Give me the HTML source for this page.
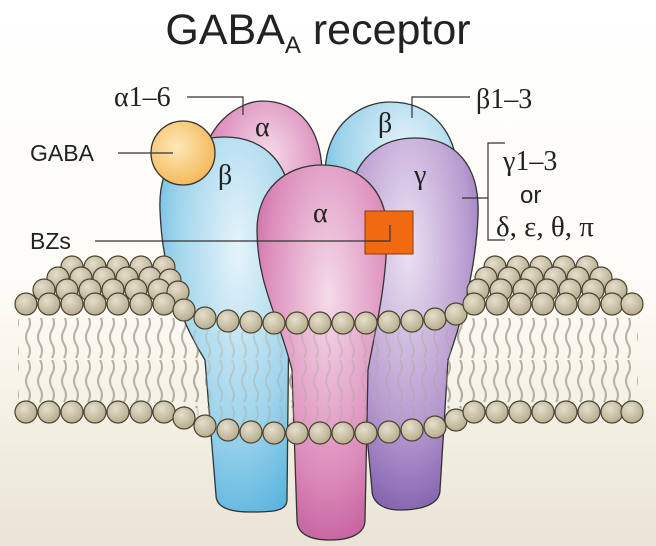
<!DOCTYPE html>
<html><head><meta charset="utf-8"><style>
html,body{margin:0;padding:0;background:#fff}
svg{display:block}
text{font-family:"Liberation Serif","DejaVu Serif",serif;fill:#222}
.s{font-family:"Liberation Sans",sans-serif}
</style></head><body>
<svg width="656" height="546" viewBox="0 0 656 546" xmlns="http://www.w3.org/2000/svg">
<defs>
<linearGradient id="bg" x1="0" y1="0" x2="0" y2="1">
<stop offset="0" stop-color="#ffffff"/><stop offset="0.55" stop-color="#fdfbf5"/><stop offset="0.78" stop-color="#f3efe3"/><stop offset="1" stop-color="#e9e4d6"/>
</linearGradient>
<radialGradient id="blue" cx="0.6" cy="0.3" r="0.8"><stop offset="0" stop-color="#e6f4fa"/><stop offset="0.6" stop-color="#9fd4ec"/><stop offset="1" stop-color="#4fb0dc"/></radialGradient>
<radialGradient id="pink" cx="0.55" cy="0.35" r="0.8"><stop offset="0" stop-color="#f5dbe9"/><stop offset="0.6" stop-color="#dc8cbb"/><stop offset="1" stop-color="#b8478e"/></radialGradient>
<radialGradient id="purple" cx="0.45" cy="0.3" r="0.8"><stop offset="0" stop-color="#ece2f2"/><stop offset="0.6" stop-color="#b79ad0"/><stop offset="1" stop-color="#7451a6"/></radialGradient>
<radialGradient id="gaba" cx="0.4" cy="0.4" r="0.7"><stop offset="0" stop-color="#fde8b8"/><stop offset="1" stop-color="#f4b450"/></radialGradient>
<radialGradient id="head" cx="0.4" cy="0.35" r="0.7"><stop offset="0" stop-color="#e6dfcc"/><stop offset="1" stop-color="#b4a98a"/></radialGradient>
<pattern id="tails" width="12" height="90" patternUnits="userSpaceOnUse">
<path d="M4 0 q4 7 0 14 q-4 7 0 14 q4 7 0 14 M4 46 q4 7 0 14 q-4 7 0 14 q4 7 0 14" stroke="#a9a494" stroke-width="2" fill="none"/>
</pattern>
</defs>
<rect width="656" height="546" fill="url(#bg)"/>
<rect x="18" y="318" width="620" height="90" fill="url(#tails)" opacity="0.85"/>

<path d="M203 175 C200 125 240 101 262 101 C300 101 322 130 322 175 L322 260 L210 260 Z" fill="url(#pink)" stroke="#333" stroke-width="1.3"/>
<path d="M325 175 C325 125 360 102 390 102 C430 102 458 130 458 180 L458 260 L330 260 Z" fill="url(#blue)" stroke="#333" stroke-width="1.3"/>
<path d="M160 210 C158 160 185 137 225 137 C265 137 292 165 290 210 L287 500 C287 512 270 512 250 512 C225 512 216 505 216 495 L205 360 C180 320 162 270 160 210 Z" fill="url(#blue)" stroke="#333" stroke-width="1.3"/>
<path d="M350 200 C352 160 380 138 415 138 C455 138 480 165 478 215 C476 270 462 320 448 360 L440 490 C440 505 420 510 400 510 C380 510 372 500 372 490 L360 360 Z" fill="url(#purple)" stroke="#333" stroke-width="1.3"/>
<path d="M257 230 C257 190 285 165 322 165 C360 165 388 190 387 235 C386 290 375 330 368 370 L365 520 C365 535 348 540 330 540 C312 540 297 535 297 520 L292 370 C280 320 257 285 257 230 Z" fill="url(#pink)" stroke="#333" stroke-width="1.3"/>

<!-- tails faintly visible through proteins -->
<rect x="190" y="330" width="280" height="95" fill="url(#tails)" opacity="0.35"/>

<circle cx="183" cy="153" r="32" fill="url(#gaba)" stroke="#333" stroke-width="1.3"/>
<rect x="365" y="211" width="48" height="43" fill="#f26a10" stroke="#8a3a10" stroke-width="1"/>

<g fill="url(#head)" stroke="#4a4433" stroke-width="1.2">
<circle cx="72" cy="267" r="11"/><circle cx="95" cy="267" r="11"/><circle cx="118" cy="267" r="11"/><circle cx="141" cy="267" r="11"/><circle cx="164" cy="267" r="11"/>
<circle cx="58" cy="278" r="11"/><circle cx="81" cy="278" r="11"/><circle cx="104" cy="278" r="11"/><circle cx="127" cy="278" r="11"/><circle cx="150" cy="278" r="11"/><circle cx="170" cy="280" r="11"/>
<circle cx="44" cy="290" r="11"/><circle cx="67" cy="290" r="11"/><circle cx="90" cy="290" r="11"/><circle cx="113" cy="290" r="11"/><circle cx="136" cy="290" r="11"/><circle cx="159" cy="290" r="11"/><circle cx="178" cy="292" r="11"/>
<circle cx="26" cy="304" r="11"/><circle cx="49" cy="304" r="11"/><circle cx="72" cy="304" r="11"/><circle cx="95" cy="304" r="11"/><circle cx="118" cy="304" r="11"/><circle cx="141" cy="304" r="11"/><circle cx="164" cy="304" r="11"/><circle cx="184" cy="310" r="11"/>
<circle cx="205" cy="318" r="11"/><circle cx="228" cy="321" r="11"/><circle cx="251" cy="322" r="11"/><circle cx="274" cy="323" r="11"/><circle cx="297" cy="323" r="11"/><circle cx="320" cy="323" r="11"/><circle cx="343" cy="323" r="11"/><circle cx="366" cy="323" r="11"/><circle cx="389" cy="322" r="11"/><circle cx="412" cy="321" r="11"/><circle cx="435" cy="319" r="11"/><circle cx="456" cy="314" r="11"/>
<circle cx="495" cy="267" r="11"/><circle cx="518" cy="267" r="11"/><circle cx="541" cy="267" r="11"/><circle cx="564" cy="267" r="11"/><circle cx="587" cy="267" r="11"/>
<circle cx="486" cy="278" r="11"/><circle cx="509" cy="278" r="11"/><circle cx="532" cy="278" r="11"/><circle cx="555" cy="278" r="11"/><circle cx="578" cy="278" r="11"/><circle cx="601" cy="278" r="11"/>
<circle cx="478" cy="290" r="11"/><circle cx="501" cy="290" r="11"/><circle cx="524" cy="290" r="11"/><circle cx="547" cy="290" r="11"/><circle cx="570" cy="290" r="11"/><circle cx="593" cy="290" r="11"/><circle cx="616" cy="290" r="11"/>
<circle cx="474" cy="304" r="11"/><circle cx="497" cy="304" r="11"/><circle cx="520" cy="304" r="11"/><circle cx="543" cy="304" r="11"/><circle cx="566" cy="304" r="11"/><circle cx="589" cy="304" r="11"/><circle cx="612" cy="304" r="11"/><circle cx="632" cy="304" r="11"/>
<circle cx="26" cy="412" r="11"/><circle cx="49" cy="412" r="11"/><circle cx="72" cy="412" r="11"/><circle cx="95" cy="412" r="11"/><circle cx="118" cy="412" r="11"/><circle cx="141" cy="412" r="11"/><circle cx="164" cy="412" r="11"/><circle cx="184" cy="418" r="11"/>
<circle cx="205" cy="426" r="11"/><circle cx="228" cy="430" r="11"/><circle cx="251" cy="432" r="11"/><circle cx="274" cy="433" r="11"/><circle cx="297" cy="433" r="11"/><circle cx="320" cy="433" r="11"/><circle cx="343" cy="433" r="11"/><circle cx="366" cy="433" r="11"/><circle cx="389" cy="432" r="11"/><circle cx="412" cy="430" r="11"/><circle cx="435" cy="427" r="11"/><circle cx="456" cy="420" r="11"/>
<circle cx="474" cy="412" r="11"/><circle cx="497" cy="412" r="11"/><circle cx="520" cy="412" r="11"/><circle cx="543" cy="412" r="11"/><circle cx="566" cy="412" r="11"/><circle cx="589" cy="412" r="11"/><circle cx="612" cy="412" r="11"/><circle cx="632" cy="412" r="11"/>
</g>

<g stroke="#333" stroke-width="1.2" fill="none">
<path d="M187 97 H243 V115"/>
<path d="M412 118 V97 H470"/>
<path d="M118 153 H173"/>
<path d="M95 241 H390 V225"/>
<path d="M462 198 H488"/>
<path d="M505 143 H488 V240 H505"/>
</g>
<text x="318" y="44" text-anchor="middle" class="s" font-size="43">GABA<tspan font-size="24" dy="9">A</tspan><tspan dy="-9"> receptor</tspan></text>
<text x="114" y="106" font-size="28">α1–6</text>
<text x="476" y="108" font-size="28">β1–3</text>
<text x="30" y="161" class="s" font-size="23">GABA</text>
<text x="30" y="249" class="s" font-size="23">BZs</text>
<text x="503" y="170" font-size="28">γ1–3</text>
<text x="520" y="203" class="s" font-size="24">or</text>
<text x="496" y="236" font-size="29">δ, ε, θ, π</text>
<text x="255" y="136" font-size="28">α</text>
<text x="378" y="132" font-size="28">β</text>
<text x="218" y="184" font-size="28">β</text>
<text x="414" y="184" font-size="28">γ</text>
<text x="313" y="222" font-size="28">α</text>
</svg>
</body></html>
